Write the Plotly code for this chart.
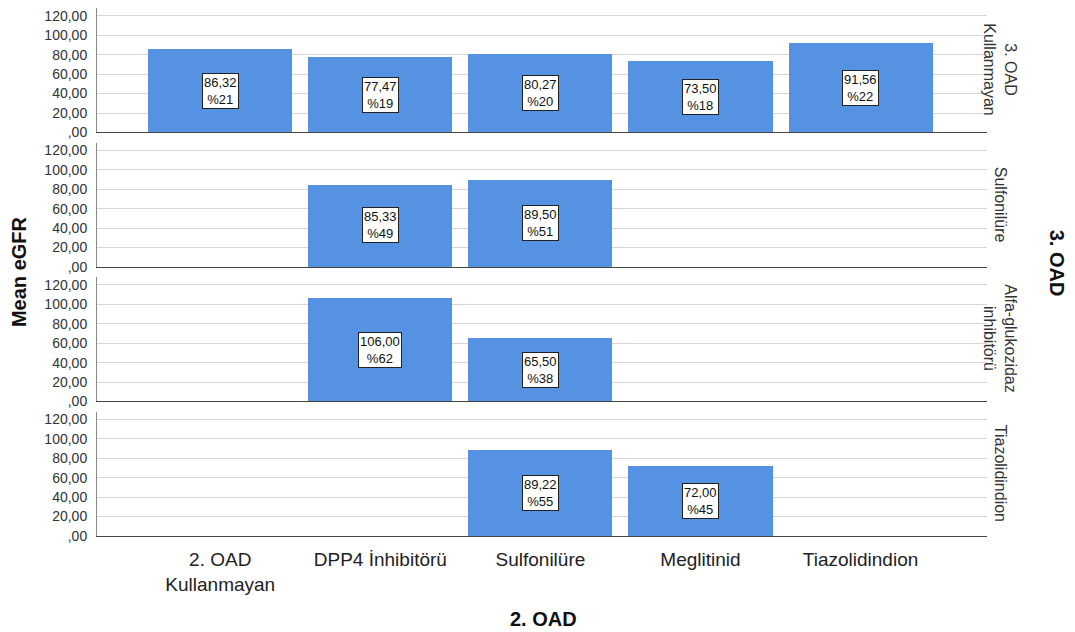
import plotly.graph_objects as go
from plotly.subplots import make_subplots

# columns (2. OAD) and facet rows (3. OAD)
col_cats = ["2. OAD<br>Kullanmayan", "DPP4 İnhibitörü", "Sulfonilüre", "Meglitinid", "Tiazolidindion"]
row_cats = ["3. OAD<br>Kullanmayan", "Sulfonilüre", "Alfa-glukozidaz<br>inhibitörü", "Tiazolidindion"]

mean_kullanmayan = [86.32, 77.47, 80.27, 73.50, 91.56]
mean_sulfonilure = [None, 85.33, 89.50, None, None]
mean_alfa = [None, 106.00, 65.50, None, None]
mean_tiazo = [None, None, 89.22, 72.00, None]

pct_kullanmayan = [21, 19, 20, 18, 22]
pct_sulfonilure = [None, 49, 51, None, None]
pct_alfa = [None, 62, 38, None, None]
pct_tiazo = [None, None, 55, 45, None]

means = [mean_kullanmayan, mean_sulfonilure, mean_alfa, mean_tiazo]
pcts = [pct_kullanmayan, pct_sulfonilure, pct_alfa, pct_tiazo]

y_ticks = [0, 20, 40, 60, 80, 100, 120]
y_ticktext = [",00", "20,00", "40,00", "60,00", "80,00", "100,00", "120,00"]

FONT = "Arial, Liberation Sans, sans-serif"
BAR = "#5592e2"

# page body has an 8px margin, figure is sized/offset to compensate
fig = make_subplots(rows=4, cols=1, shared_xaxes=True, vertical_spacing=0.019)

xpos = list(range(len(col_cats)))
for r in range(4):
    fig.add_trace(go.Bar(x=xpos, y=means[r], width=0.9, marker_color=BAR,
                         marker_line_width=0, showlegend=False), row=r + 1, col=1)
    # value boxes
    for i, v in enumerate(means[r]):
        if v is None:
            continue
        fig.add_annotation(x=i, y=v / 2, text=f"{v:.2f}".replace(".", ",") + f"<br>%{pcts[r][i]}",
                           showarrow=False, bgcolor="white", bordercolor="#222", borderwidth=1,
                           borderpad=1, font=dict(family=FONT, size=13, color="#111"),
                           row=r + 1, col=1)
    fig.update_yaxes(range=[0, 128], tickvals=y_ticks, ticktext=y_ticktext,
                     showgrid=True, gridcolor="#d6d6d6", gridwidth=1,
                     showline=True, linecolor="#888", linewidth=1, zeroline=False,
                     ticklabelstandoff=6, automargin=False, ticklabeloverflow="allow",
                     tickfont=dict(family=FONT, size=14, color="#333"),
                     row=r + 1, col=1)
    fig.update_xaxes(range=[-0.77, 4.79], showgrid=False, showline=True, linecolor="#444",
                     linewidth=1, zeroline=False, automargin=False, row=r + 1, col=1)

fig.update_xaxes(tickvals=xpos, ticktext=col_cats, ticks="", ticklabelstandoff=6,
                 tickfont=dict(family=FONT, size=19, color="#222"), row=4, col=1)

# facet labels on the right
for r in range(4):
    yd = fig.layout[f"yaxis{'' if r == 0 else r + 1}"].domain
    fig.add_annotation(xref="paper", yref="paper", x=1.0146, y=(yd[0] + yd[1]) / 2,
                       xanchor="center", yanchor="middle",
                       text=row_cats[r], textangle=90, showarrow=False,
                       font=dict(family=FONT, size=16, color="#333"))

fig.add_annotation(xref="paper", yref="paper", x=1.079, y=0.517, text="<b>3. OAD</b>",
                   xanchor="center", yanchor="middle",
                   textangle=90, showarrow=False, font=dict(family=FONT, size=20, color="#111"))
fig.add_annotation(xref="paper", yref="paper", x=-0.0876, y=0.5, text="<b>Mean eGFR</b>",
                   xanchor="center", yanchor="middle",
                   textangle=-90, showarrow=False, font=dict(family=FONT, size=20, color="#111"))
fig.add_annotation(xref="paper", yref="paper", x=0.502, y=-0.157, text="<b>2. OAD</b>",
                   xanchor="center", yanchor="middle",
                   showarrow=False, font=dict(family=FONT, size=20, color="#111"))

fig.update_layout(width=1067, height=624, margin=dict(l=89, r=88, t=0, b=96),
                  plot_bgcolor="white", paper_bgcolor="white", bargap=0,
                  font=dict(family=FONT))

fig.write_html("out.html")
